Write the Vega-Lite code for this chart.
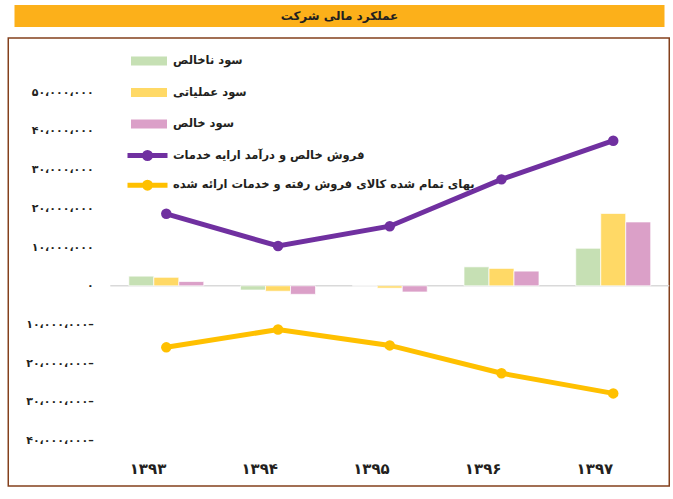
{
  "$schema": "https://vega.github.io/schema/vega-lite/v6.json",
  "description": "عملکرد مالی شرکت",
  "padding": {"left": 7, "top": 5, "right": 4, "bottom": 5},
  "background": "white",
  "datasets": {
    "heading": [{"text": "عملکرد مالی شرکت"}],
    "finance": [
      {"year": "۱۳۹۳", "series": "سود ناخالص", "value": 2500000},
      {"year": "۱۳۹۴", "series": "سود ناخالص", "value": -1100000},
      {"year": "۱۳۹۵", "series": "سود ناخالص", "value": 0},
      {"year": "۱۳۹۶", "series": "سود ناخالص", "value": 4900000},
      {"year": "۱۳۹۷", "series": "سود ناخالص", "value": 9700000},
      {"year": "۱۳۹۳", "series": "سود عملیاتی", "value": 2200000},
      {"year": "۱۳۹۴", "series": "سود عملیاتی", "value": -1400000},
      {"year": "۱۳۹۵", "series": "سود عملیاتی", "value": -600000},
      {"year": "۱۳۹۶", "series": "سود عملیاتی", "value": 4500000},
      {"year": "۱۳۹۷", "series": "سود عملیاتی", "value": 18700000},
      {"year": "۱۳۹۳", "series": "سود خالص", "value": 1100000},
      {"year": "۱۳۹۴", "series": "سود خالص", "value": -2200000},
      {"year": "۱۳۹۵", "series": "سود خالص", "value": -1600000},
      {"year": "۱۳۹۶", "series": "سود خالص", "value": 3800000},
      {"year": "۱۳۹۷", "series": "سود خالص", "value": 16500000},
      {"year": "۱۳۹۳", "series": "فروش خالص و درآمد ارایه خدمات", "value": 18600000},
      {"year": "۱۳۹۴", "series": "فروش خالص و درآمد ارایه خدمات", "value": 10300000},
      {"year": "۱۳۹۵", "series": "فروش خالص و درآمد ارایه خدمات", "value": 15400000},
      {"year": "۱۳۹۶", "series": "فروش خالص و درآمد ارایه خدمات", "value": 27500000},
      {"year": "۱۳۹۷", "series": "فروش خالص و درآمد ارایه خدمات", "value": 37500000},
      {"year": "۱۳۹۳", "series": "بهای تمام شده کالای فروش رفته و خدمات ارائه شده", "value": -15900000},
      {"year": "۱۳۹۴", "series": "بهای تمام شده کالای فروش رفته و خدمات ارائه شده", "value": -11300000},
      {"year": "۱۳۹۵", "series": "بهای تمام شده کالای فروش رفته و خدمات ارائه شده", "value": -15400000},
      {"year": "۱۳۹۶", "series": "بهای تمام شده کالای فروش رفته و خدمات ارائه شده", "value": -22600000},
      {"year": "۱۳۹۷", "series": "بهای تمام شده کالای فروش رفته و خدمات ارائه شده", "value": -27800000}
    ]
  },
  "spacing": 10,
  "center": true,
  "vconcat": [
    {
      "width": 650,
      "height": 22,
      "view": {"fill": "#fcb01a", "stroke": null},
      "data": {"name": "heading"},
      "mark": {"type": "text", "font": "DejaVu Sans", "fontWeight": "bold", "fontSize": 12, "color": "#231f20"},
      "encoding": {
        "x": {"datum": 0.5, "type": "quantitative", "scale": {"domain": [0, 1]}, "axis": null},
        "y": {"datum": 0.5, "type": "quantitative", "scale": {"domain": [0, 1]}, "axis": null},
        "text": {"field": "text"}
      }
    },
    {
      "width": 661,
      "height": 448,
      "view": {"stroke": "#84401c", "strokeWidth": 1.5},
      "data": {"name": "finance"},
      "layer": [
        {
          "transform": [{"filter": "datum.year == '۱۳۹۳' && datum.series == 'سود ناخالص'"}],
          "mark": {"type": "rule", "color": "#d9d9d9", "strokeWidth": 1.5},
          "encoding": {
            "x": {"datum": "۱۳۹۳", "bandPosition": -0.247},
            "x2": {"datum": "۱۳۹۷", "bandPosition": 1.247},
            "y": {"datum": 0}
          }
        },
        {
          "transform": [{"filter": {"field": "series", "oneOf": ["سود ناخالص", "سود عملیاتی", "سود خالص"]}}],
          "mark": {"type": "bar", "stroke": "white", "strokeWidth": 1, "strokeOpacity": 0.7},
          "encoding": {
            "x": {
              "field": "year", "type": "nominal", "sort": null,
              "scale": {"domain": ["۱۳۹۳", "۱۳۹۴", "۱۳۹۵", "۱۳۹۶", "۱۳۹۷"], "range": [102, 661], "paddingInner": 0.329, "paddingOuter": 0.166},
              "axis": {
                "title": null, "domain": false, "ticks": false, "tickSize": 0, "grid": false,
                "labelAngle": 0, "labelPadding": 0, "offset": -18, "labelBaseline": "middle",
                "labelFont": "DejaVu Sans", "labelFontSize": 15, "labelFontWeight": "bold", "labelColor": "#231f20"
              }
            },
            "y": {
              "field": "value", "type": "quantitative",
              "scale": {"domain": [-51730000, 64030000], "nice": false, "zero": false},
              "axis": {
                "title": null, "domain": false, "ticks": false, "tickSize": 0, "grid": false,
                "values": [-40000000, -30000000, -20000000, -10000000, 0, 10000000, 20000000, 30000000, 40000000, 50000000],
                "labelExpr": "{'50000000': '۵۰،۰۰۰،۰۰۰', '40000000': '۴۰،۰۰۰،۰۰۰', '30000000': '۳۰،۰۰۰،۰۰۰', '20000000': '۲۰،۰۰۰،۰۰۰', '10000000': '۱۰،۰۰۰،۰۰۰', '0': '۰', '-10000000': '۱۰،۰۰۰،۰۰۰–', '-20000000': '۲۰،۰۰۰،۰۰۰–', '-30000000': '۳۰،۰۰۰،۰۰۰–', '-40000000': '۴۰،۰۰۰،۰۰۰–'}[datum.value]",
                "labelPadding": 0, "offset": -85,
                "labelFont": "DejaVu Sans", "labelFontSize": 11, "labelFontWeight": "bold", "labelColor": "#231f20"
              }
            },
            "xOffset": {"field": "series", "scale": {"domain": ["سود ناخالص", "سود عملیاتی", "سود خالص"], "paddingInner": 0}},
            "fill": {
              "field": "series", "type": "nominal",
              "scale": {"domain": ["سود ناخالص", "سود عملیاتی", "سود خالص"], "range": ["#c6e0b4", "#ffd966", "#dba0c8"]},
              "legend": {
                "title": null, "orient": "none", "legendX": 123, "legendY": 38, "padding": 0,
                "symbolType": "M-1,-0.25H1V0.25H-1Z", "symbolSize": 1296, "symbolStrokeWidth": 0,
                "labelFont": "DejaVu Sans", "labelFontSize": 11.5, "labelFontWeight": "bold", "labelColor": "#231f20",
                "labelOffset": 6, "labelLimit": 500, "rowPadding": 7.5
              }
            }
          }
        },
        {
          "transform": [{"filter": {"field": "series", "oneOf": ["فروش خالص و درآمد ارایه خدمات", "بهای تمام شده کالای فروش رفته و خدمات ارائه شده"]}}],
          "mark": {"type": "line", "strokeWidth": 5},
          "encoding": {
            "x": {"field": "year", "type": "nominal", "sort": null},
            "y": {"field": "value", "type": "quantitative"},
            "stroke": {
              "field": "series", "type": "nominal",
              "scale": {"domain": ["فروش خالص و درآمد ارایه خدمات", "بهای تمام شده کالای فروش رفته و خدمات ارائه شده"], "range": ["#7030a0", "#ffc000"]},
              "legend": {
                "title": null, "orient": "none", "legendX": 127, "legendY": 138, "padding": 0,
                "symbolType": "M-2,0H2M0.3,0A0.3,0.3,0,1,1,-0.3,0A0.3,0.3,0,1,1,0.3,0", "symbolSize": 400, "symbolStrokeWidth": 5,
                "labelFont": "DejaVu Sans", "labelFontSize": 11.5, "labelFontWeight": "bold", "labelColor": "#231f20",
                "labelOffset": 13, "labelLimit": 500, "rowPadding": 2.7
              }
            }
          }
        },
        {
          "transform": [{"filter": {"field": "series", "oneOf": ["فروش خالص و درآمد ارایه خدمات", "بهای تمام شده کالای فروش رفته و خدمات ارائه شده"]}}],
          "mark": {"type": "point", "filled": true, "size": 110, "opacity": 1},
          "encoding": {
            "x": {"field": "year", "type": "nominal", "sort": null},
            "y": {"field": "value", "type": "quantitative"},
            "color": {
              "field": "series", "type": "nominal",
              "scale": {"domain": ["فروش خالص و درآمد ارایه خدمات", "بهای تمام شده کالای فروش رفته و خدمات ارائه شده"], "range": ["#7030a0", "#ffc000"]},
              "legend": null
            }
          }
        }
      ]
    }
  ]
}
